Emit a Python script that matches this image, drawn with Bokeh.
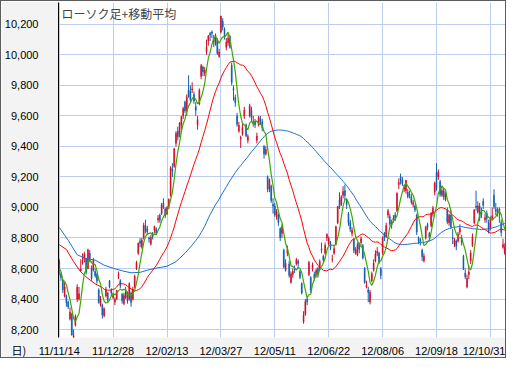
import pandas as pd
from bokeh.plotting import figure
from bokeh.models import Range1d, FixedTicker, NumeralTickFormatter, Label, Title, ColumnDataSource
from bokeh.embed import file_html
from bokeh.resources import INLINE

# ---- data (Nikkei-style daily candles, index = trading day) ----
tick_idx = [0, 30, 60, 90, 120, 150, 180, 210, 240]
tick_labels = ["11/11/14", "11/12/28", "12/02/13", "12/03/27", "12/05/11",
               "12/06/22", "12/08/06", "12/09/18", "12/10/31"]
y_ticks = [8200, 8400, 8600, 8800, 9000, 9200, 9400, 9600, 9800, 10000, 10200]

opens = [
    8650, 8565, 8520, 8420, 8420, 8380, 8270, 8300, 8140, 8230, 8400, 8400,
    8585, 8640, 8660, 8660, 8600, 8700, 8600, 8590, 8580, 8560, 8460, 8360, 8360, 8290, 8420, 8440, 8520, 8460, 8410, 8380, 8400,
    8550, 8520, 8430, 8370, 8410, 8440, 8400, 8440, 8400, 8480, 8600, 8700, 8780, 8740, 8800, 8880, 8860, 8800, 8760,
    8830, 8850, 8860, 8920, 8950, 8960, 9030, 8990, 8960, 9010, 9080, 9250, 9270, 9420, 9500, 9480, 9540, 9600, 9690, 9630, 9770,
    9760, 9770, 9740, 9660, 9540, 9680, 9860, 9920, 9880, 10020, 10090, 10140, 10150, 10110, 10070, 10100, 9990, 10150, 10220, 10170, 10050,
    10080, 10120, 9930, 9780, 9720, 9600, 9500, 9450, 9480, 9600, 9540, 9440, 9600, 9640, 9550, 9560, 9440, 9540, 9580, 9560,
    9400, 9350, 9200, 9120, 9140, 9020, 9010, 8940, 8950, 8860, 8830, 8720, 8590, 8700, 8630, 8510, 8560, 8600, 8630, 8650, 8580,
    8500, 8250, 8300, 8400, 8560, 8540, 8600, 8560, 8560, 8600, 8600, 8730, 8680, 8700, 8800, 8760, 8760, 8660, 8700, 8760, 8900,
    9050, 9020, 9080, 9110, 9050, 8960, 8900, 8830, 8790, 8700, 8690, 8760, 8770, 8750, 8600, 8480, 8460, 8380, 8520, 8590, 8650,
    8700, 8700, 8600, 8700, 8830, 8810, 8950, 8940, 8900, 8920, 8950, 8980, 9150, 9200, 9180, 9120, 9110, 9100, 9080, 9070, 9020, 9010, 8950,
    8800, 8790, 8720, 8650, 8800, 8890, 8830, 8880, 8960, 9100, 9230, 9200, 9170, 9080, 9110, 9050, 8980, 8900, 8950,
    8800, 8760, 8780, 8780, 8840, 8800, 8680, 8570, 8480, 8560, 8650, 8750, 8900, 9010, 8970, 9010, 8970, 9040, 8920, 8960, 8900, 8870,
    8930, 9080, 8990, 8960, 8990, 8900, 8740, 8700,
]
highs = [
    8662, 8575, 8530, 8510, 8430, 8390, 8345, 8310, 8200, 8300, 8497, 8480,
    8660, 8700, 8710, 8670, 8730, 8720, 8620, 8670, 8600, 8570, 8470, 8420, 8370, 8345, 8480, 8445, 8525, 8470, 8440, 8410, 8460,
    8580, 8530, 8440, 8440, 8480, 8450, 8510, 8450, 8480, 8560, 8650, 8770, 8800, 8800, 8900, 8920, 8880, 8810, 8820,
    8840, 8880, 8870, 8950, 8960, 9030, 9060, 9000, 9010, 9060, 9270, 9290, 9390, 9500, 9530, 9560, 9600, 9660, 9700, 9740, 9866,
    9800, 9820, 9760, 9690, 9600, 9780, 9940, 9930, 9920, 10100, 10130, 10150, 10160, 10130, 10140, 10110, 10040, 10255, 10240, 10180, 10110,
    10140, 10130, 9950, 9800, 9740, 9620, 9560, 9470, 9550, 9660, 9550, 9480, 9680, 9660, 9600, 9580, 9490, 9600, 9600, 9580,
    9410, 9400, 9210, 9190, 9150, 9060, 9030, 8990, 8960, 8870, 8890, 8730, 8660, 8750, 8650, 8580, 8600, 8620, 8670, 8660, 8590,
    8510, 8320, 8400, 8410, 8650, 8550, 8640, 8580, 8600, 8610, 8660, 8770, 8690, 8770, 8830, 8810, 8780, 8690, 8750, 8880, 9010,
    9100, 9080, 9140, 9150, 9060, 8970, 8920, 8870, 8800, 8740, 8770, 8770, 8810, 8760, 8610, 8520, 8480, 8460, 8580, 8660, 8720,
    8740, 8710, 8610, 8810, 8840, 8900, 8990, 8960, 8920, 8950, 8970, 9100, 9190, 9222, 9200, 9150, 9180, 9120, 9110, 9090, 9050, 9020, 8960,
    8810, 8800, 8730, 8700, 8880, 8900, 8840, 8970, 9010, 9170, 9290, 9250, 9180, 9140, 9130, 9100, 9000, 8960, 8980,
    8860, 8800, 8790, 8840, 8890, 8820, 8690, 8600, 8560, 8620, 8720, 8830, 8990, 9110, 9040, 9030, 9000, 9060, 8960, 8980, 8920, 8940,
    9000, 9120, 9030, 9000, 9000, 8920, 8795, 8765,
]
lows = [
    8555, 8520, 8440, 8410, 8350, 8335, 8260, 8160, 8135, 8220, 8380, 8390,
    8580, 8625, 8640, 8560, 8595, 8640, 8520, 8580, 8540, 8500, 8370, 8350, 8272, 8280, 8410, 8380, 8470, 8420, 8400, 8360, 8395,
    8530, 8470, 8370, 8360, 8400, 8370, 8390, 8350, 8390, 8470, 8590, 8690, 8740, 8730, 8790, 8830, 8820, 8770, 8750,
    8790, 8830, 8820, 8900, 8900, 8950, 8990, 8930, 8950, 8990, 9070, 9200, 9260, 9400, 9440, 9460, 9510, 9580, 9620, 9600, 9720,
    9690, 9750, 9680, 9600, 9510, 9670, 9840, 9860, 9860, 10000, 10060, 10090, 10110, 10050, 10060, 10000, 9980, 10140, 10160, 10100, 10030,
    10060, 10040, 9800, 9700, 9660, 9530, 9490, 9390, 9470, 9580, 9460, 9420, 9590, 9560, 9530, 9520, 9420, 9530, 9540, 9500,
    9320, 9340, 9100, 9100, 9030, 8960, 8940, 8920, 8880, 8780, 8800, 8600, 8580, 8680, 8540, 8500, 8540, 8570, 8620, 8600, 8530,
    8430, 8238, 8290, 8360, 8550, 8440, 8580, 8520, 8540, 8540, 8590, 8700, 8640, 8690, 8780, 8750, 8720, 8640, 8690, 8750, 8890,
    8990, 9010, 9060, 9050, 8990, 8880, 8840, 8810, 8700, 8690, 8680, 8700, 8750, 8660, 8500, 8470, 8380, 8365, 8510, 8580, 8640,
    8680, 8630, 8530, 8690, 8780, 8800, 8930, 8880, 8860, 8900, 8910, 8970, 9120, 9150, 9140, 9100, 9090, 9060, 9060, 9020, 9000, 8970, 8820,
    8760, 8750, 8650, 8640, 8790, 8850, 8780, 8870, 8940, 9080, 9110, 9180, 9070, 9070, 9050, 9040, 8890, 8880, 8860,
    8760, 8740, 8720, 8770, 8820, 8750, 8590, 8530, 8470, 8530, 8630, 8740, 8890, 8980, 8960, 8910, 8930, 8990, 8900, 8900, 8830, 8850,
    8920, 8990, 8950, 8940, 8900, 8810, 8730, 8690,
]
closes = [
    8603, 8541, 8463, 8479, 8374, 8348, 8314, 8165, 8160, 8287, 8477, 8434,
    8597, 8643, 8695, 8575, 8722, 8664, 8536, 8653, 8553, 8519, 8377, 8401, 8296, 8336, 8459, 8395, 8479, 8440, 8423, 8398, 8455,
    8560, 8488, 8390, 8422, 8447, 8385, 8500, 8378, 8466, 8550, 8639, 8766, 8765, 8785, 8883, 8849, 8841, 8793, 8802,
    8809, 8876, 8831, 8929, 8917, 9015, 9002, 8947, 8999, 9052, 9260, 9238, 9384, 9485, 9463, 9554, 9595, 9647, 9633, 9722, 9723,
    9707, 9777, 9698, 9637, 9576, 9768, 9929, 9890, 9899, 10050, 10123, 10129, 10141, 10086, 10127, 10011, 10018, 10255, 10182, 10114, 10083,
    10109, 10050, 9819, 9767, 9688, 9546, 9538, 9458, 9524, 9637, 9470, 9464, 9667, 9588, 9561, 9542, 9468, 9590, 9561, 9520,
    9350, 9380, 9119, 9181, 9045, 9009, 8953, 8973, 8900, 8801, 8876, 8611, 8633, 8729, 8556, 8563, 8580, 8593, 8657, 8633, 8542,
    8440, 8295, 8383, 8382, 8639, 8459, 8624, 8536, 8587, 8568, 8647, 8721, 8655, 8752, 8824, 8798, 8734, 8663, 8730, 8874, 9006,
    9003, 9066, 9104, 9079, 9020, 8896, 8857, 8851, 8720, 8724, 8755, 8727, 8795, 8669, 8508, 8488, 8443, 8443, 8566, 8636, 8695,
    8711, 8640, 8555, 8803, 8804, 8881, 8978, 8891, 8885, 8929, 8929, 9092, 9163, 9171, 9156, 9131, 9178, 9070, 9085, 9034, 9033, 8983, 8839,
    8783, 8775, 8679, 8680, 8871, 8869, 8807, 8959, 8995, 9159, 9123, 9232, 9086, 9110, 9069, 9091, 8906, 8949, 8870,
    8796, 8786, 8746, 8824, 8863, 8769, 8596, 8546, 8534, 8577, 8701, 8807, 8982, 9002, 9010, 8932, 8955, 9014, 8933, 8929, 8840, 8928,
    8946, 9007, 8975, 8974, 8972, 8837, 8757, 8740,
]

# moving averages at the left edge (before a full window exists)
ma5_head_idx = [0, 1, 2, 3]
ma5_head = [8604, 8580, 8525, 8515]
ma25_head_idx = [0, 4, 8, 12, 16, 20]
ma25_head = [8756, 8725, 8645, 8578, 8535, 8500]
ma75_head_idx = [0, 5, 10, 15, 20, 25, 30, 35, 40, 45, 50, 55, 60, 65, 70]
ma75_head = [8870, 8785, 8690, 8665, 8655, 8622, 8602, 8585, 8572, 8575, 8592, 8605, 8615, 8645, 8700]

# ---- build ----
n = len(closes)
idx = list(range(n))
UP = "#d2102c"
DOWN = "#1560b0"
colors = [UP if c >= o else DOWN for o, c in zip(opens, closes)]
src = ColumnDataSource(dict(i=idx, o=opens, h=highs, l=lows, c=closes, col=colors))

s = pd.Series(closes, dtype=float)


def ma_line(head_idx, head, w):
    m = s.rolling(w).mean()
    xs = head_idx + list(range(w - 1, n))
    ys = head + m.iloc[w - 1:].tolist()
    return xs, ys


GRID = "#bdcdee"
BG = "#f3f3f3"

p = figure(width=506, height=358, output_backend="svg", toolbar_location=None,
           x_range=Range1d(-0.4, 248.4), y_range=Range1d(8148, 10343),
           min_border_left=48, min_border_right=2, min_border_top=1, min_border_bottom=18,
           background_fill_color="white", border_fill_color=BG,
           styles={"border": "1px solid #5c5c5c"})
p.outline_line_color = None

# grid
p.xgrid.ticker = FixedTicker(ticks=tick_idx)
p.ygrid.ticker = FixedTicker(ticks=y_ticks)
for g in (p.xgrid, p.ygrid):
    g.grid_line_color = GRID
    g.grid_line_width = 1

# axes
p.xaxis.ticker = FixedTicker(ticks=tick_idx)
p.xaxis.major_label_overrides = {t: lab for t, lab in zip(tick_idx, tick_labels)}
p.yaxis.ticker = FixedTicker(ticks=y_ticks)
p.yaxis.formatter = NumeralTickFormatter(format="0,0")
for ax in (p.xaxis, p.yaxis):
    ax.major_tick_line_color = None
    ax.minor_tick_line_color = None
    ax.major_label_text_font = "Liberation Sans"
    ax.major_label_text_font_size = "11px"
    ax.major_label_text_color = "#000000"
p.xaxis.axis_line_color = None
p.xaxis.major_label_standoff = 1
p.yaxis.axis_line_color = "#000000"
p.yaxis.major_label_standoff = 14

# bottom-left unit text, on the same line as the date labels
p.add_layout(Title(text="日)", align="left", offset=-47, standoff=-36,
                   text_font="Noto Sans CJK JP", text_font_size="11px",
                   text_font_style="normal", text_color="#000000",
                   vertical_align="top"), "below")

# candles
p.segment(x0="i", y0="l", x1="i", y1="h", color="col", line_width=1, source=src)
p.vbar(x="i", bottom="o", top="c", width=0.55, fill_color="col", line_color="col",
       line_width=0.5, source=src)

# moving averages
x5, y5 = ma_line(ma5_head_idx, ma5_head, 5)
x25, y25 = ma_line(ma25_head_idx, ma25_head, 25)
x75, y75 = ma_line(ma75_head_idx, ma75_head, 75)
p.line(x75, y75, line_color="#1a6fd0", line_width=1)
p.line(x25, y25, line_color="#ff0000", line_width=1)
p.line(x5, y5, line_color="#3aa800", line_width=1.2)

# chart title inside the plot
p.add_layout(Label(x=-0.4, y=10343, x_offset=3, y_offset=-2, text="ローソク足+移動平均",
                   text_font="Noto Sans CJK JP", text_font_size="12px",
                   text_color="#444444", text_baseline="top", text_align="left"))

open("out.html", "w").write(file_html(p, INLINE))
